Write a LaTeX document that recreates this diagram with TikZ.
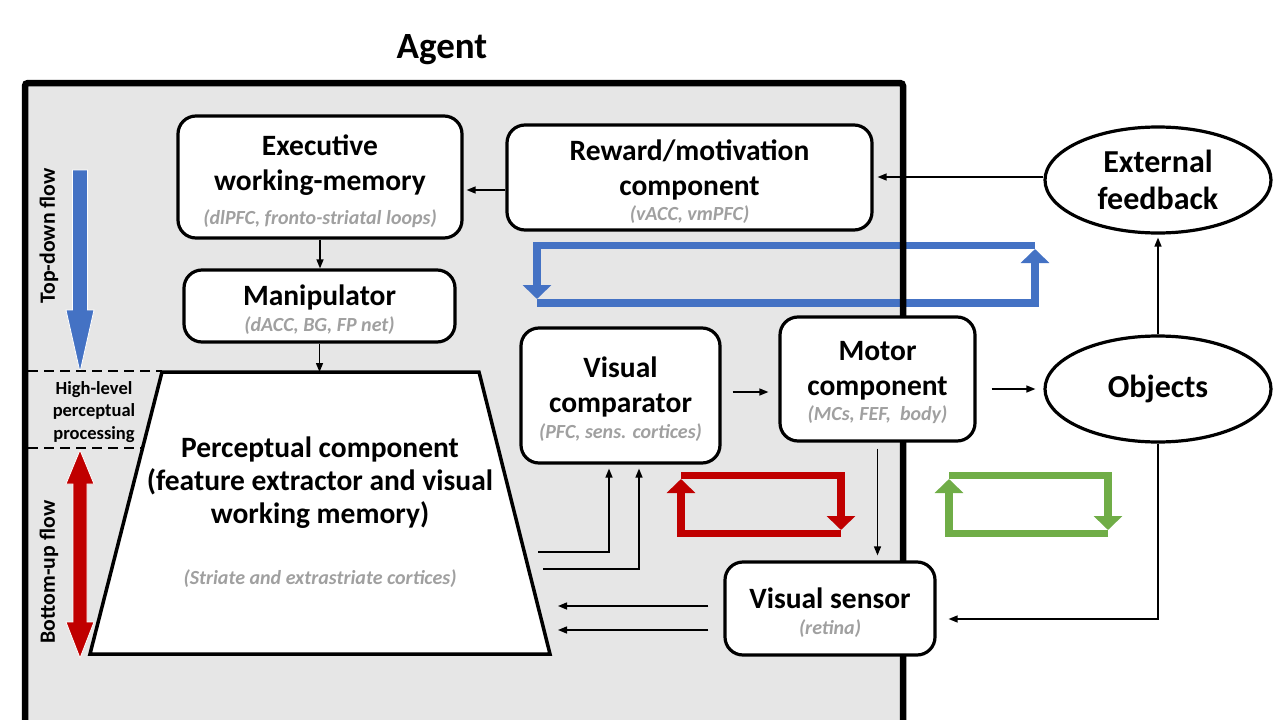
\documentclass[tikz,border=0pt]{standalone}
\usepackage{fontspec}
\setmainfont{Carlito}
\usetikzlibrary{arrows.meta,calc,shapes.geometric}
\definecolor{agentgray}{RGB}{230,230,230}
\definecolor{subgray}{RGB}{160,160,160}
\definecolor{flowblue}{RGB}{68,114,196}
\definecolor{flowred}{RGB}{192,0,0}
\definecolor{flowgreen}{RGB}{112,173,71}
\newcommand\dgtitle{\fontsize{29.5}{35}\selectfont\bfseries}
\newcommand\dgbig{\fontsize{32}{37}\selectfont\bfseries}
\newcommand\dgsub[1]{{\fontsize{20}{24}\selectfont\bfseries\itshape\color{subgray}#1}}
\begin{document}
\begin{tikzpicture}[x=1pt,y=-1pt,
  box/.style={draw, line width=3.2pt, rounded corners=18pt, fill=white, inner sep=0pt},
  boxtext/.style={align=center, inner sep=0pt, font=\dgtitle},
  ell/.style={draw, ellipse, line width=3.2pt, fill=white, align=center, inner sep=0pt, font=\dgbig},
  arr/.style={line width=1.4pt, -{Triangle[length=9pt,width=7pt]}},
  loopline/.style={line width=7.5pt, -{Triangle[length=14pt,width=28pt]}},
  flowarrow/.style={draw=white, line width=0.8pt},
  divider/.style={line width=2.4pt, dash pattern=on 10pt off 6pt},
]
\useasboundingbox (0,0) rectangle (1280,720);
\clip (0,0) rectangle (1280,720);

% title
\node[font=\fontsize{37}{42}\selectfont\bfseries] (agent) at (442,50) {Agent};

% agent area
\fill[agentgray] (25,83) rectangle (903,760);

% blue loop (crosses the border)
\draw[loopline, flowblue] (537,303) -- (1035,303) -- (1035,249);
\draw[loopline, flowblue] (1035,245.5) -- (537,245.5) -- (537,299);

% agent border
\draw[line width=6.5pt, rounded corners=3pt] (25,760) -- (25,83) -- (903,83) -- (903,760);

% left side flows
\fill[flowblue, flowarrow] (72.5,170) -- (87.5,170) -- (87.5,310) -- (94,310) -- (80,372) -- (66,310) -- (72.5,310) -- cycle;
\fill[flowred, flowarrow] (80,450) -- (94,484) -- (87,484) -- (87,622) -- (94,622) -- (80,658) -- (66,622) -- (73,622) -- (73,484) -- (66,484) -- cycle;
\node[rotate=90, font=\fontsize{21.8}{26}\selectfont\bfseries] (tdlabel) at (49,236) {Top-down flow};
\node[rotate=90, font=\fontsize{21.8}{26}\selectfont\bfseries] (bulabel) at (49,572) {Bottom-up flow};

% perceptual component
\draw[line width=3.5pt, fill=white, line join=miter] (162,372) -- (479,372) -- (550,654) -- (90,654) -- cycle;
\coordinate (perctop) at (320,372);
\node[align=center, font=\fontsize{29.5}{33}\selectfont\bfseries] (perc) at (320,483) {Perceptual component\\(feature extractor and visual\\working memory)};
\node (percsub) at (320,579) {\dgsub{(Striate and extrastriate cortices)}};

% dashed dividers and label
\draw[divider] (28,371) -- (162,371);
\draw[divider] (28,448) -- (142,448);
\node[align=center, font=\fontsize{18.5}{22.5}\selectfont\bfseries] (hlpp) at (94,412) {High-level\\perceptual\\processing};

% boxes
\node[box, minimum width=284pt, minimum height=122pt] (exec) at (320,177) {};
\node[boxtext] (execT) at ([yshift=-4pt]exec.center) {Executive\\working-memory\\[-1pt]\dgsub{(dlPFC, fronto-striatal loops)}};
\node[box, minimum width=365pt, minimum height=105pt] (rew) at (689.5,177.5) {};
\node[boxtext] (rewT) at ([yshift=-4pt]rew.center) {Reward/motivation\\component\\[-10pt]\dgsub{(vACC, vmPFC)}};
\node[box, minimum width=271pt, minimum height=72pt] (manip) at (319.5,306) {};
\node[boxtext] (manipT) at ([yshift=-4pt]manip.center) {Manipulator\\[-9pt]\dgsub{(dACC, BG, FP net)}};
\node[box, minimum width=199pt, minimum height=135pt] (comp) at (620.5,395.5) {};
\node[boxtext] (compT) at ([yshift=-4pt]comp.center) {Visual\\comparator\\[-9pt]\dgsub{(PFC, sens. cortices)}};
\node[box, minimum width=195pt, minimum height=124pt] (motor) at (877.5,379) {};
\node[boxtext] (motorT) at ([yshift=-4pt]motor.center) {Motor\\component\\[-10pt]\dgsub{(MCs, FEF,\ \ body)}};
\node[box, minimum width=210pt, minimum height=93pt] (vs) at (830,608.5) {};
\node[boxtext] (vsT) at ([yshift=-4pt]vs.center) {Visual sensor\\[-9pt]\dgsub{(retina)}};
\node[ell, minimum width=226pt, minimum height=106pt] (ext) at (1158,180) {External\\feedback};
\node[ell, minimum width=226pt, minimum height=106pt] (obj) at (1158,389) {Objects};

% red and green loops
\draw[loopline, flowred] (841,533.5) -- (681,533.5) -- (681,479);
\draw[loopline, flowred] (681,475.5) -- (841,475.5) -- (841,530);
\draw[loopline, flowgreen] (1108,533.5) -- (949,533.5) -- (949,479);
\draw[loopline, flowgreen] (949,475.5) -- (1108,475.5) -- (1108,530);

% connectors
\draw[arr, shorten >=3pt] (rew.west |- 0,190) -- (exec.east |- 0,190);
\draw[arr, shorten >=4pt] (ext.west |- 0,177) -- (rew.east |- 0,177);
\draw[arr] (exec.south) -- (exec.south |- manip.north);
\draw[arr] (manip.south) -- (manip.south |- perctop);
\draw[arr, shorten <=11pt, shorten >=10pt] (comp.east |- 0,392) -- (motor.west |- 0,392);
\draw[arr, shorten <=15pt, shorten >=8pt] (motor.east |- 0,389) -- (obj.west |- 0,389);
\draw[arr, shorten >=3pt] (obj.north) -- (ext.south);
\draw[arr, shorten >=12pt] (obj.south) |- (vs.east |- 0,619);
\draw[arr, shorten <=6pt, shorten >=5pt] (motor.south) -- (motor.south |- vs.north);
\coordinate (p1) at (538,552);
\coordinate (p2) at (543,569);
\draw[arr, shorten >=4pt] (p1) -| (comp.south -| 609,0);
\draw[arr, shorten >=4pt] (p2) -| (comp.south -| 639,0);
\coordinate (q1) at (558,606);
\coordinate (q2) at (558,630);
\draw[arr, shorten <=15pt] (vs.west |- q1) -- (q1);
\draw[arr, shorten <=15pt] (vs.west |- q2) -- (q2);
\end{tikzpicture}
\end{document}
